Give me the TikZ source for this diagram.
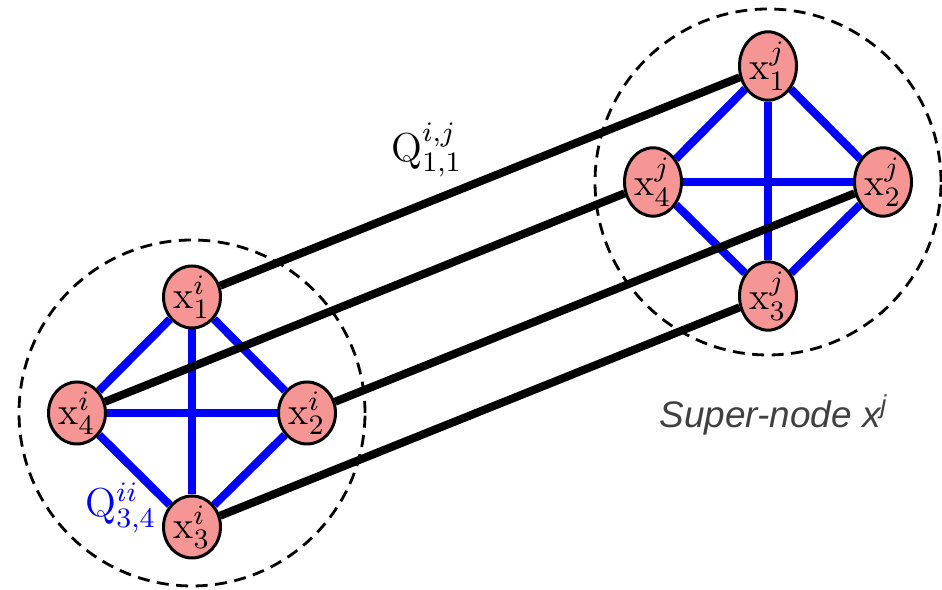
\documentclass[tikz,border=0pt]{standalone}
\usepackage{amsmath}
\usepackage{fontspec}
\newfontfamily\labelfont{Liberation Sans}
\usetikzlibrary{backgrounds, calc, positioning, shapes.geometric}
\definecolor{nodepink}{RGB}{246,150,148}
\definecolor{labelgray}{RGB}{64,64,64}

\begin{document}
\begin{tikzpicture}[every node/.style={font=\fontsize{11}{13}\selectfont},
    member/.style={ellipse, draw=black, line width=0.85pt, fill=nodepink,
                   minimum width=0.57cm, minimum height=0.62cm, inner sep=0pt},
    intra/.style={blue, line width=2.3pt},
    inter/.style={black, line width=2.3pt},
    group/.style={line width=0.8pt, dash pattern=on 0.12cm off 0.075cm}]
  \useasboundingbox (0,0) rectangle (9.42,5.90);
  % super-node centres
  \coordinate (ci) at (1.92,1.77);
  \coordinate (cj) at (7.68,4.08);
  % members of each super-node
  \foreach \s in {i,j} {
    \node[member] (\s1) at ($(c\s)+(0,1.16)$) {$\mathrm{x}^{\s}_1$};
    \node[member] (\s2) at ($(c\s)+(1.15,0)$) {$\mathrm{x}^{\s}_2$};
    \node[member] (\s3) at ($(c\s)+(0,-1.14)$) {$\mathrm{x}^{\s}_3$};
    \node[member] (\s4) at ($(c\s)+(-1.15,0)$) {$\mathrm{x}^{\s}_4$};
  }
  \begin{scope}[on background layer]
    % dashed super-node boundaries
    \draw[group] (ci) circle (1.73);
    \draw[group] (cj) circle (1.73);
    % couplings inside a super-node
    \foreach \s in {i,j}
      \foreach \a/\b in {1/2, 2/3, 3/4, 4/1, 1/3, 2/4}
        \draw[intra] (\s\a) -- (\s\b);
    % couplings between the super-nodes
    \foreach \k in {1,...,4}
      \draw[inter] (i\k) -- (j\k);
  \end{scope}
  % labels
  \node[blue, font=\fontsize{11.5}{13}\selectfont] (qii) at (1.21,0.82) {$\mathrm{Q}^{ii}_{3,4}$};
  \node[font=\fontsize{11.5}{13}\selectfont] (qij) at (4.27,4.40) {$\mathrm{Q}^{i,j}_{1,1}$};
  \node[labelgray, font=\labelfont\itshape\fontsize{10.5}{12}\selectfont] (supj) at (7.74,1.75)
    {Super-node x\textsuperscript{j}};
\end{tikzpicture}
\end{document}
